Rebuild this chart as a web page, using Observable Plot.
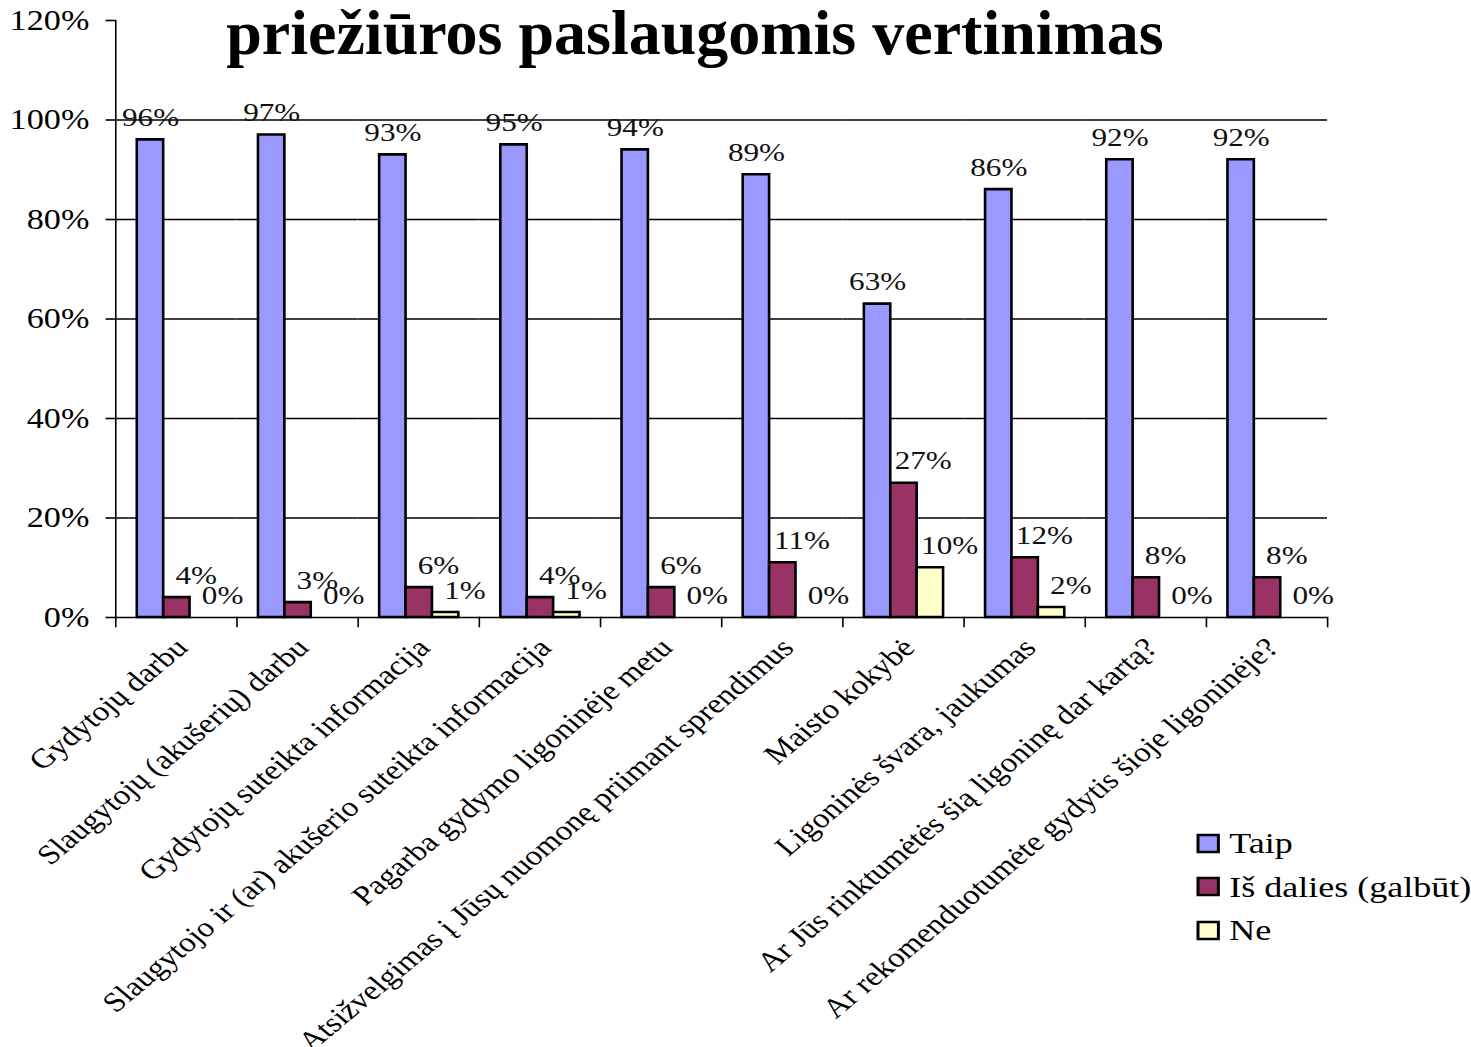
<!DOCTYPE html>
<html>
<head>
<meta charset="utf-8">
<script src="https://cdn.jsdelivr.net/npm/d3@7"></script>
<script src="https://cdn.jsdelivr.net/npm/@observablehq/plot@0.6"></script>
<style>
  html, body { margin: 0; padding: 0; background: #fff; overflow: hidden; }
  #wrap { position: relative; width: 1471px; height: 1047px; overflow: hidden; background: #fff; }
  #chart { position: absolute; left: 0; top: 0; }
  #title {
    position: absolute; left: 695px; top: 1px; transform: translateX(-50%);
    font: bold 64px "Liberation Serif", "Times New Roman", serif; line-height: 64px;
    white-space: nowrap; color: #000;
  }
  #legend { position: absolute; left: 1198px; top: 822px; transform-origin: 0 0; transform: scaleX(1.2); }
  .lg-swatch { height: 42.5px; }
  .lg-swatch svg { overflow: visible; margin-right: 9px !important; }
  .lg-swatch svg rect { stroke: #000; stroke-width: 2.5px; }
  .lg-swatch-label { color: #000; }
</style>
</head>
<body>
<div id="wrap">
  <div id="chart"></div>
  <div id="title">priežiūros paslaugomis vertinimas</div>
  <div id="legend"></div>
</div>
<script>
// ---- data ----
const categories = [
  "Gydytojų darbu",
  "Slaugytojų (akušerių) darbu",
  "Gydytojų suteikta informacija",
  "Slaugytojo ir (ar) akušerio suteikta informacija",
  "Pagarba gydymo ligoninėje metu",
  "Atsižvelgimas į Jūsų nuomonę priimant sprendimus",
  "Maisto kokybė",
  "Ligoninės švara, jaukumas",
  "Ar Jūs rinktumėtės šią ligoninę dar kartą?",
  "Ar rekomenduotumėte gydytis šioje ligoninėje?"
];
const series = ["Taip", "Iš dalies (galbūt)", "Ne"];
const taip     = [96, 97, 93, 95, 94, 89, 63, 86, 92, 92];
const isDalies = [4, 3, 6, 4, 6, 11, 27, 12, 8, 8];
const ne       = [0, 0, 1, 1, 0, 0, 10, 2, 0, 0];
const colors = ["#9999FF", "#993366", "#FFFFCC"];
const yTicks = [0, 20, 40, 60, 80, 100, 120];
const gridTicks = [20, 40, 60, 80, 100];

const values = [taip, isDalies, ne];
const data = categories.flatMap((c, i) => series.map((s, j) => ({category: c, series: s, value: values[j][i]})));

// ---- layout (chart drawn narrower, then stretched horizontally like the source) ----
const STRETCH = 1.2;
const W = 1471, H = 1047;
const W0 = Math.round(W / STRETCH);
const mTop = 20, mBottom = 430, mLeft = 95, mRight = W0 - 1107;
const plotH = H - mTop - mBottom;
const serif = '"Liberation Serif", "Times New Roman", serif';

const chart = Plot.plot({
  width: W0, height: H,
  marginTop: mTop, marginBottom: mBottom, marginLeft: mLeft, marginRight: mRight,
  style: {fontFamily: serif, background: "white", color: "#000", overflow: "visible"},
  fx: {domain: categories, padding: 0, axis: null},
  x: {domain: series, paddingInner: 0, paddingOuter: 0.7, axis: null},
  y: {domain: [0, 120], axis: null},
  color: {domain: series, range: colors},
  marks: [
    Plot.ruleY(gridTicks, {stroke: "#000", strokeWidth: 1.3}),
    Plot.ruleY([0], {stroke: "#000", strokeWidth: 1.6}),
    Plot.frame({anchor: "left", facetAnchor: "left", stroke: "#000", strokeWidth: 1.6}),
    Plot.frame({anchor: "left", insetTop: plotH, insetBottom: -9, stroke: "#000", strokeWidth: 1.6}),
    Plot.frame({anchor: "right", facetAnchor: "right", insetTop: plotH, insetBottom: -9, stroke: "#000", strokeWidth: 1.6}),
    Plot.axisY(yTicks, {
      tickFormat: d => d + "%", tickSize: 8, tickPadding: 14,
      fontSize: 28.5, strokeWidth: 1.6, label: null, fill: "#000"
    }),
    Plot.barY(data, {fx: "category", x: "series", y: "value", fill: "series", stroke: "#000", strokeWidth: 2.6}),
    Plot.text(data.filter(d => d.series === series[0]), {
      fx: "category", x: "series", y: "value", text: d => d.value + "%",
      lineAnchor: "bottom", dy: -14, fontSize: 26, fill: "#111"
    }),
    Plot.text(data.filter(d => d.series !== series[0]), {
      fx: "category", x: "series", y: "value", text: d => d.value + "%",
      lineAnchor: "bottom", dy: -14, dx: 16, fontSize: 26, fill: "#111"
    }),
    Plot.text(categories, {
      fx: d => d, text: d => d, frameAnchor: "bottom",
      rotate: -45, textAnchor: "end", lineAnchor: "top",
      dx: -3, dy: 18, fontSize: 27.5, fill: "#000"
    })
  ]
});

// stretch horizontally
chart.setAttribute("viewBox", `0 0 ${W0} ${H}`);
chart.setAttribute("width", W);
chart.setAttribute("height", H);
chart.setAttribute("preserveAspectRatio", "none");
chart.style.maxWidth = "none";
chart.querySelectorAll("line, path, rect").forEach(el => el.setAttribute("vector-effect", "non-scaling-stroke"));
document.getElementById("chart").appendChild(chart);

const legend = Plot.legend({
  color: {domain: series, range: colors},
  legend: "swatches", columns: 1, swatchSize: 17, className: "lg",
  style: {fontFamily: serif, fontSize: "30px", color: "#000", margin: 0}
});
document.getElementById("legend").appendChild(legend);
</script>
</body>
</html>
